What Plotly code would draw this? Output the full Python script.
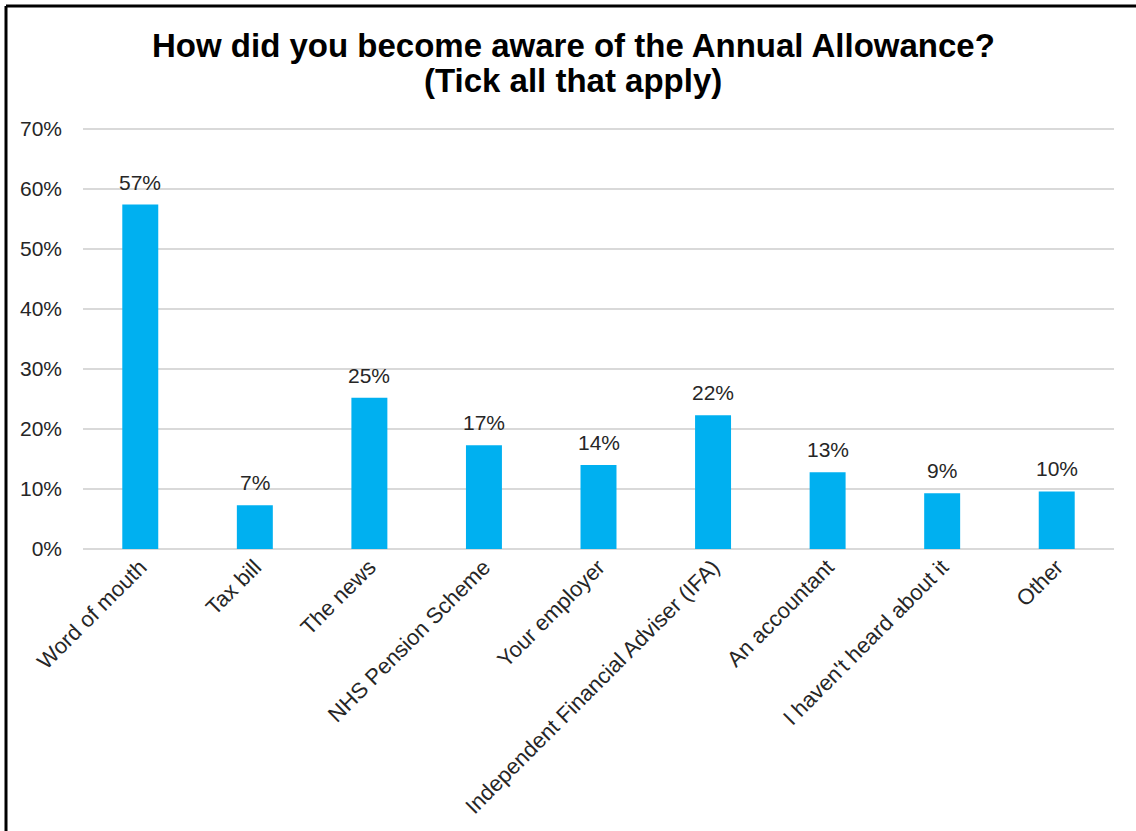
import plotly.graph_objects as go

categories = [
    "Word of mouth",
    "Tax bill",
    "The news",
    "NHS Pension Scheme",
    "Your employer",
    "Independent Financial Adviser (IFA)",
    "An accountant",
    "I haven't heard about it",
    "Other",
]
shares = [57.4, 7.3, 25.2, 17.3, 14.0, 22.3, 12.8, 9.3, 9.6]
y_ticks = [0, 10, 20, 30, 40, 50, 60, 70]
y_tick_labels = [f"{v}%" for v in y_ticks]
title_lines = ["How did you become aware of the Annual Allowance?", "(Tick all that apply)"]

FONT = "Liberation Sans, Arial, sans-serif"
TEXT = "#262626"
W, H = 1136, 831
L, R, T, B = 83, 22, 126, 282
pw, ph = W - L - R, H - T - B

fig = go.Figure(
    go.Bar(
        x=categories,
        y=shares,
        marker=dict(color="#00B0F0", line=dict(width=0)),
        hoverinfo="x+y",
    )
)

# value labels above each bar
for cat, val in zip(categories, shares):
    fig.add_annotation(
        x=cat, y=val, xref="x", yref="y",
        text=f"{val:.0f}%",
        showarrow=False,
        yanchor="bottom",
        yshift=9,
        font=dict(family=FONT, size=21, color=TEXT),
    )

# two-line bold heading
for line, cy in zip(title_lines, [45, 81]):
    fig.add_annotation(
        x=0.5 + (573 - (L + pw / 2)) / pw, y=1 + (T - cy) / ph,
        xref="paper", yref="paper",
        text=f"<b>{line}</b>",
        showarrow=False,
        xanchor="center", yanchor="middle",
        font=dict(family=FONT, size=33, color="black"),
    )

# chart frame (left and top edges)
fx = (6 - L) / pw
fy = 1 + (T - 6) / ph
fig.add_shape(type="line", xref="paper", yref="paper", x0=fx, x1=fx, y0=fy, y1=-(B + 10) / ph,
              line=dict(color="black", width=3))
fig.add_shape(type="line", xref="paper", yref="paper", x0=fx, x1=1 + (R + 10) / pw, y0=fy, y1=fy,
              line=dict(color="black", width=3))

fig.update_layout(
    width=W,
    height=H,
    margin=dict(l=L, r=R, t=T, b=B),
    paper_bgcolor="white",
    plot_bgcolor="white",
    showlegend=False,
    bargap=0.686,
    xaxis=dict(
        tickangle=-45,
        tickfont=dict(family=FONT, size=22, color=TEXT),
        showline=False,
        showgrid=False,
        ticks="",
    ),
    yaxis=dict(
        range=[0, 70.5],
        tickvals=y_ticks,
        ticktext=y_tick_labels,
        tickfont=dict(family=FONT, size=21, color=TEXT),
        showgrid=True,
        gridcolor="#D9D9D9",
        gridwidth=2,
        zeroline=True,
        zerolinecolor="#D9D9D9",
        zerolinewidth=2,
        ticks="",
        ticklabelstandoff=20,
    ),
)

fig.write_html("out.html")
